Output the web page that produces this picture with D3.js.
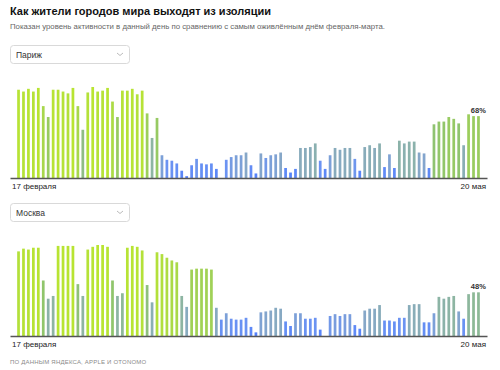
<!DOCTYPE html>
<html>
<head>
<meta charset="utf-8">
<script src="https://cdn.jsdelivr.net/npm/d3@7"></script>
<style>
  body { margin: 0; background: #fff; }
  svg { font-family: "Liberation Sans", Arial, sans-serif; }
</style>
</head>
<body>
<svg width="500" height="370"></svg>
<script>
// days from 17 Feb to 20 May 2020
var dayCount = 94;
var firstLabel = "17 февраля";
var lastLabel = "20 мая";

// activity, % of the busiest day of Feb-March (null = no data)
var parisValues = [97,95,98,95,99,79,67, 97,97,95,93,99,79,53, 94,100,95,96,99,84,67,
  96,96,98,92,96,71,44, 66,25,20,19,16,8,2, 14,21,16,15,16,10,null,
  20,23,25,25,28,14,5, 27,22,25,26,28,11,6, 10,33,33,34,38,19,10,
  25,33,31,33,33,21,8, 34,36,33,38,12,26,11, 41,38,40,40,28,27,11,
  59,62,62,67,65,60,36, 70,68,68];

var moscowValues = [93,96,95,97,97,61,41, 44,99,99,99,99,57,44, 95,98,100,100,98,61,44,
  47,97,99,98,94,56,37, 92,90,86,83,81,44,32, 73,74,74,74,73,31,18,
  25,19,18,18,20,10,4, 26,27,28,31,30,16,11, 25,25,19,19,20,7,null,
  22,24,22,24,24,12,8, 28,30,30,34,17,17,16, 20,20,34,35,35,15,15,
  25,43,41,43,44,27,19, 46,48,48];

var cities = ["Париж", "Москва"];

var svg = d3.select("svg");
var days = d3.range(dayCount);

svg.append("text").attr("x", 10).attr("y", 15)
  .attr("font-size", 11).attr("font-weight", "bold").attr("fill", "#111")
  .text("Как жители городов мира выходят из изоляции");
svg.append("text").attr("x", 10).attr("y", 29)
  .attr("font-size", 7.8).attr("fill", "#666")
  .text("Показан уровень активности в данный день по сравнению с самым оживлённым днём февраля-марта.");
svg.append("text").attr("x", 10).attr("y", 364)
  .attr("font-size", 6).attr("fill", "#8a8a8a").attr("letter-spacing", 0.2)
  .text("ПО ДАННЫМ ЯНДЕКСА, APPLE И OTONOMO");

var x = d3.scaleBand().domain(days).range([10, 487])
  .paddingInner(0.45).paddingOuter(1.45);

var color = d3.scaleLinear()
  .domain([0, 20, 28, 45, 60, 80, 100])
  .range(["#4f7dfb", "#6b93f2", "#86a7c8", "#8db6a0", "#8fc46e", "#a9d84a", "#b9e531"]);

function drawChart(name, values, top) {
  var g = svg.append("g");
  var base = top + 133;
  var y = d3.scaleLinear().domain([0, 100]).range([base, base - 91]);

  // dropdown
  g.append("rect").attr("x", 10.5).attr("y", top + 0.5).attr("width", 119).attr("height", 18)
    .attr("rx", 3).attr("fill", "#fff").attr("stroke", "#d9d9d9");
  g.append("text").attr("x", 16).attr("y", top + 12.5)
    .attr("font-size", 8.5).attr("fill", "#333").text(name);
  g.append("path").attr("d", "M" + 117 + "," + (top + 8) + "l3,2.5l3,-2.5")
    .attr("fill", "none").attr("stroke", "#aaa").attr("stroke-width", 0.8);

  g.selectAll(".bar")
    .data(days.filter(function(d) { return values[d] != null; }))
    .enter().append("rect")
    .attr("class", "bar")
    .attr("x", function(d) { return x(d); })
    .attr("y", function(d) { return y(values[d]); })
    .attr("width", x.bandwidth())
    .attr("height", function(d) { return base - y(values[d]); })
    .attr("fill", function(d) { return color(values[d]); });

  var axis = g.append("g")
    .attr("transform", "translate(0," + base + ")")
    .call(d3.axisBottom(x).tickValues([0, dayCount - 1]).tickSize(0)
      .tickFormat(function(d) { return d == 0 ? firstLabel : lastLabel; }));
  axis.select(".domain").attr("stroke", "#555").attr("stroke-width", 1.5);
  axis.selectAll("text")
    .attr("font-size", 8).attr("fill", "#222").attr("dy", "0.95em")
    .style("font-family", "Liberation Sans, Arial, sans-serif")
    .attr("text-anchor", function(d) { return d == 0 ? "start" : "end"; })
    .attr("x", function(d) { return d == 0 ? 12 - x(d) - x.bandwidth() / 2 : 486 - x(d) - x.bandwidth() / 2; });
  axis.selectAll(".tick").attr("transform", function(d) { return "translate(" + (x(d) + x.bandwidth() / 2) + ",0)"; });

  var last = values[dayCount - 1];
  g.append("text")
    .attr("x", x(dayCount - 1) + x.bandwidth() + 6)
    .attr("y", y(last) - 3)
    .attr("text-anchor", "end").attr("font-size", 7.5).attr("font-weight", "bold").attr("fill", "#333")
    .text(last + "%");
}

drawChart(cities[0], parisValues, 45);
drawChart(cities[1], moscowValues, 203);
</script>
</body>
</html>
